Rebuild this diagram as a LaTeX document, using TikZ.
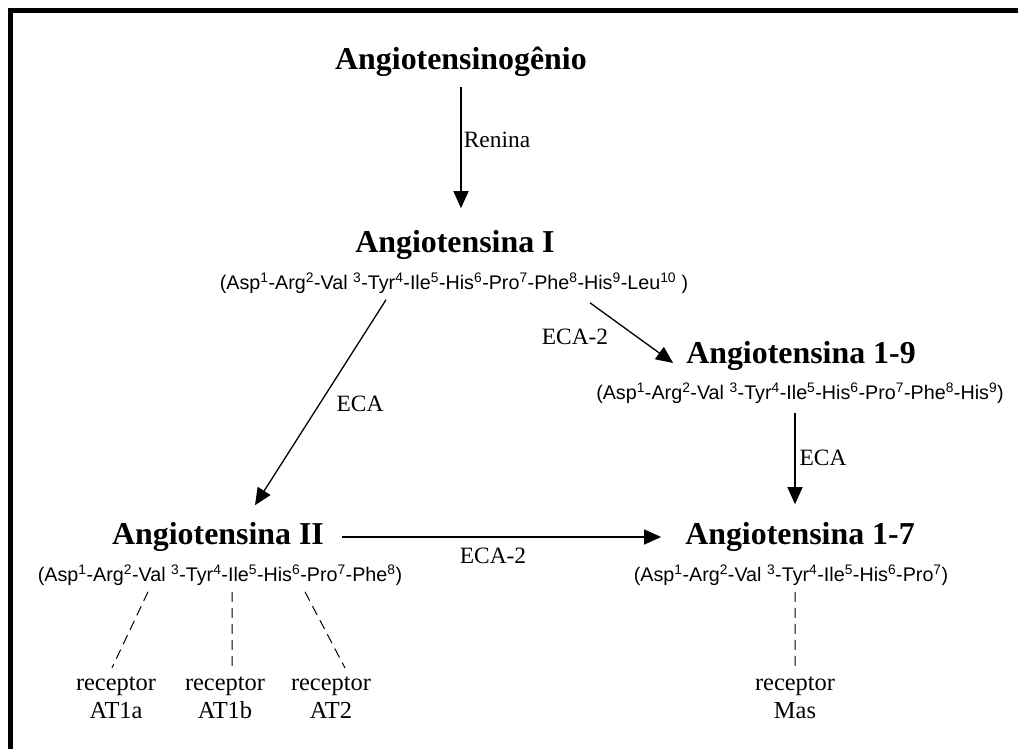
\documentclass[tikz,border=0pt]{standalone}
\usepackage{fontspec}
\setmainfont{Liberation Serif}
\newfontfamily\seqfont{Liberation Sans}
\usetikzlibrary{arrows.meta, positioning, calc}

\newcommand{\pres}[2]{#1\textsuperscript{#2}}

\begin{document}
\begin{tikzpicture}[x=1bp,y=-1bp,
    title/.style={font=\fontsize{32}{36}\selectfont\bfseries,inner sep=2bp},
    seq/.style={font=\seqfont\fontsize{19.8}{22}\selectfont,inner sep=2bp},
    lbl/.style={font=\fontsize{23.5}{26}\selectfont,inner sep=0pt},
    rec/.style={font=\fontsize{24.5}{28}\selectfont,align=center,inner sep=1bp},
    arr/.style={-{Triangle[length=17bp,width=15bp]},line width=1.3bp},
    dsh/.style={dash pattern=on 10bp off 6bp,line width=1bp}
]
  \useasboundingbox (0,0) rectangle (1018,749);

  % Frame
  \draw[line width=5bp] (10.5,749) -- (10.5,10.5) -- (1018,10.5);

  % Peptides
  \node[title] (agt) at (461,62) {Angiotensinogênio};
  \node[title] (angI) at (455,245) {Angiotensina I};
  \node[seq] (seqI) at (454,283) {(\pres{Asp}{1}-\pres{Arg}{2}-Val \textsuperscript{3}-\pres{Tyr}{4}-\pres{Ile}{5}-\pres{His}{6}-\pres{Pro}{7}-\pres{Phe}{8}-\pres{His}{9}-\pres{Leu}{10} )};
  \node[title] (ang19) at (801,356) {Angiotensina 1-9};
  \node[seq] (seq19) at (800,393) {(\pres{Asp}{1}-\pres{Arg}{2}-Val \textsuperscript{3}-\pres{Tyr}{4}-\pres{Ile}{5}-\pres{His}{6}-\pres{Pro}{7}-\pres{Phe}{8}-\pres{His}{9})};
  \node[title] (angII) at (218,537) {Angiotensina II};
  \node[seq] (seqII) at (220,575) {(\pres{Asp}{1}-\pres{Arg}{2}-Val \textsuperscript{3}-\pres{Tyr}{4}-\pres{Ile}{5}-\pres{His}{6}-\pres{Pro}{7}-\pres{Phe}{8})};
  \node[title] (ang17) at (800,537) {Angiotensina 1-7};
  \node[seq] (seq17) at (791,575) {(\pres{Asp}{1}-\pres{Arg}{2}-Val \textsuperscript{3}-\pres{Tyr}{4}-\pres{Ile}{5}-\pres{His}{6}-\pres{Pro}{7})};

  % Receptors
  \node[rec] (at1a) at (116,698) {receptor\\AT1a};
  \node[rec] (at1b) at (225,698) {receptor\\AT1b};
  \node[rec] (at2) at (331,698) {receptor\\AT2};
  \node[rec] (mas) at (795,698) {receptor\\Mas};

  % Enzymes
  \node[lbl] (renina) at (497,140) {Renina};
  \node[lbl] (ecaI) at (360,404) {ECA};
  \node[lbl] (eca2I) at (575,337) {ECA-2};
  \node[lbl] (eca19) at (823,458) {ECA};
  \node[lbl] (eca2II) at (493,556) {ECA-2};

  % Arrows
  \draw[arr,shorten <=8bp,shorten >=20bp] (agt.south) -- (agt.south |- angI.north);
  \draw[arr] ([xshift=-68bp,yshift=-4bp]seqI.south) -- ([xshift=37bp,yshift=15bp]angII.north);
  \draw[arr] ([xshift=136bp,yshift=-7bp]seqI.south) -- ([xshift=-11bp,yshift=-7bp]ang19.west);
  \draw[arr,shorten <=7bp,shorten >=16bp] ([xshift=-5bp]seq19.south) -- ([xshift=-5bp]seq19.south |- ang17.north);
  \draw[arr,shorten <=16bp,shorten >=22bp] (angII.east) -- (ang17.west);

  % Receptor links
  \draw[dsh] ([xshift=-72bp,yshift=-4bp]seqII.south) -- ([xshift=-4bp,yshift=8bp]at1a.north);
  \draw[dsh] ([xshift=12bp,yshift=-4bp]seqII.south) -- ([xshift=7bp,yshift=8bp]at1b.north);
  \draw[dsh] ([xshift=85bp,yshift=-4bp]seqII.south) -- ([xshift=14bp,yshift=8bp]at2.north);
  \draw[dsh] ([xshift=4bp,yshift=-4bp]seq17.south) -- ([yshift=8bp]mas.north);
\end{tikzpicture}
\end{document}
